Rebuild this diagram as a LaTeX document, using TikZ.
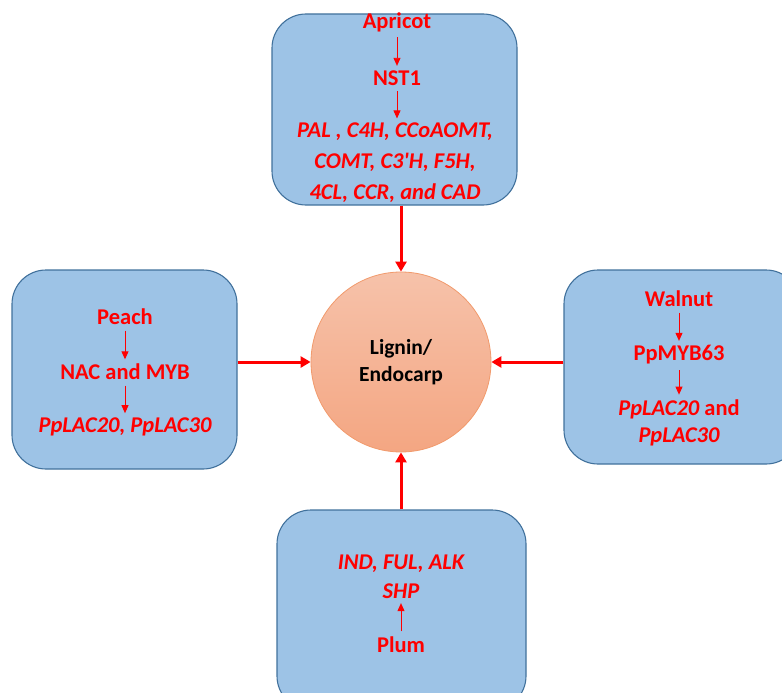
\documentclass[tikz,border=0pt]{standalone}
\usepackage{fontspec}
\setmainfont{Carlito}
\usetikzlibrary{arrows.meta,calc}
\definecolor{boxfill}{HTML}{9DC3E6}
\definecolor{boxline}{HTML}{41719C}
\definecolor{ctop}{HTML}{F6C2AA}
\definecolor{cbot}{HTML}{F4A682}
\definecolor{cline}{HTML}{F19A6C}
\definecolor{txtred}{HTML}{FF0000}
\begin{document}
\begin{tikzpicture}[x=1pt,y=-1pt,
  box/.style={draw=boxline,line width=1.1pt,fill=boxfill,rounded corners=34pt,inner sep=0pt},
  lbl/.style={text=txtred,font=\fontsize{22.5}{26}\selectfont\bfseries,inner sep=1.5pt,align=center},
  ilbl/.style={lbl,font=\fontsize{22.5}{26}\selectfont\bfseries\itshape},
  smallarrow/.style={draw=txtred,line width=0.9pt,-{Triangle[width=7pt,length=8pt]},shorten <=4pt,shorten >=3pt},
  bigarrow/.style={draw=txtred,line width=3pt,-{Triangle[width=11pt,length=10pt]}}]
\useasboundingbox (0,0) rectangle (782,693);
\clip (0,0) rectangle (782,693);
% boxes
\node[box,minimum width=245pt,minimum height=191pt] (topbox) at (394.5,109.5) {};
\node[box,minimum width=225pt,minimum height=199pt] (leftbox) at (124.5,369.5) {};
\node[box,minimum width=236pt,minimum height=194pt] (rightbox) at (682,367) {};
\node[box,minimum width=249pt,minimum height=200pt] (botbox) at (401.5,610) {};
% circle
\node[circle,draw=cline,line width=0.8pt,top color=ctop,bottom color=cbot,minimum size=180pt,inner sep=0pt,
  align=center,font=\fontsize{21.5}{27}\selectfont\bfseries] (core) at (401,362) {Lignin/\\Endocarp};
% top box texts
\node[lbl] (apr) at (397,22) {Apricot};
\node[lbl] (nst) at (397,78) {NST1};
\node[ilbl] (g1) at (395,132) {PAL , C4H, CCoAOMT,};
\node[ilbl] (g2) at (395,162) {COMT, C3\textquotesingle H, F5H,};
\node[ilbl] (g3) at (395,193) {4CL, CCR, and CAD};
\draw[smallarrow] (apr.south) -- (apr.south |- nst.north);
\draw[smallarrow] (nst.south) -- (nst.south |- g1.north);
% left box texts
\node[lbl] (peach) at (125,317) {Peach};
\node[lbl] (nac) at (125,372) {NAC and MYB};
\node[ilbl] (pplac) at (125,427) {PpLAC20, PpLAC30};
\draw[smallarrow] (peach.south) -- (peach.south |- nac.north);
\draw[smallarrow] (nac.south) -- (nac.south |- pplac.north);
% right box texts
\node[lbl] (walnut) at (679,299) {Walnut};
\node[lbl] (myb) at (679,355) {PpMYB63};
\node[lbl] (lac1) at (679,409) {\itshape PpLAC20\upshape{} and};
\node[ilbl] (lac2) at (679,437) {PpLAC30};
\draw[smallarrow] (walnut.south) -- (walnut.south |- myb.north);
\draw[smallarrow] (myb.south) -- (myb.south |- lac1.north);
% bottom box texts
\node[ilbl] (ind) at (401,564) {IND, FUL, ALK};
\node[ilbl] (shp) at (401,591) {SHP};
\node[lbl] (plum) at (401,645) {Plum};
\draw[smallarrow] (plum.north) -- (plum.north |- shp.south);
% main arrows
\draw[bigarrow] (core.north |- topbox.south) -- (core.north);
\draw[bigarrow] (leftbox.east |- core.west) -- (core.west);
\draw[bigarrow] (rightbox.west |- core.east) -- (core.east);
\draw[bigarrow] (core.south |- botbox.north) -- (core.south);
\end{tikzpicture}
\end{document}
